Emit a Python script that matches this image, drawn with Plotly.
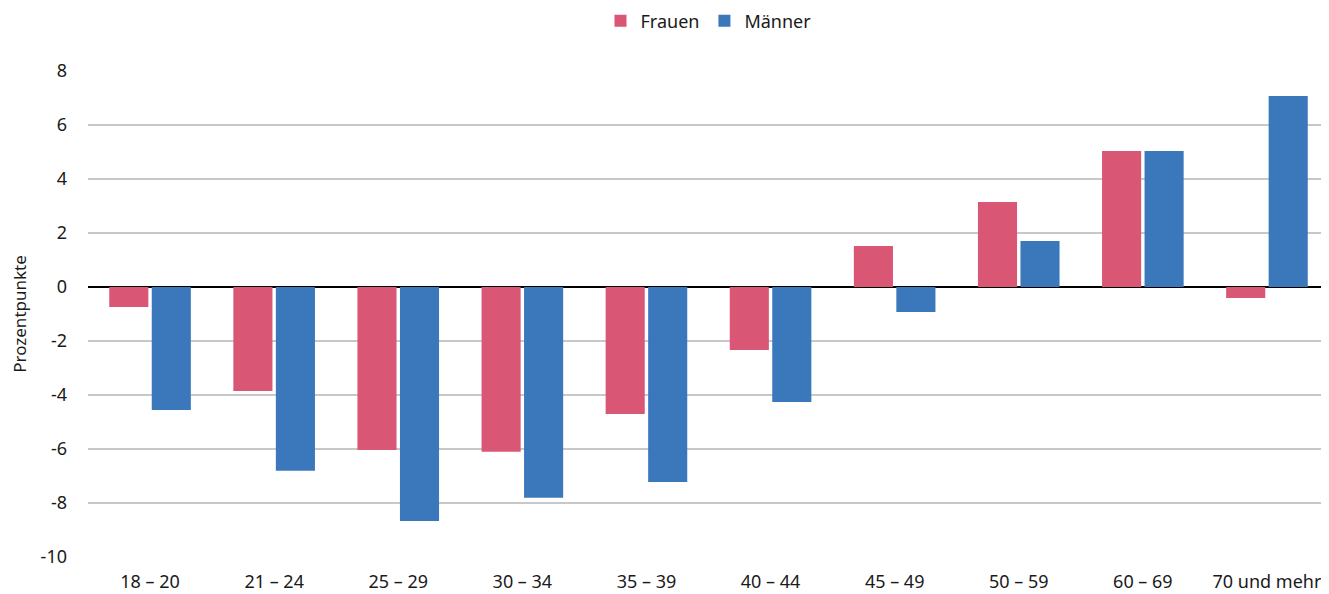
import plotly.graph_objects as go

categories = ["18 – 20", "21 – 24", "25 – 29", "30 – 34", "35 – 39", "40 – 44",
              "45 – 49", "50 – 59", "60 – 69", "70 und mehr"]
frauen = [-0.74, -3.85, -6.04, -6.1, -4.7, -2.33, 1.52, 3.15, 5.04, -0.41]
maenner = [-4.56, -6.81, -8.67, -7.81, -7.22, -4.26, -0.93, 1.70, 5.04, 7.07]
y_ticks = [8, 6, 4, 2, 0, -2, -4, -6, -8, -10]

FONT = "Noto Sans"

fig = go.Figure()
fig.add_trace(go.Bar(name="Frauen", x=categories, y=frauen, marker_color="#D95675",
                     marker_line_width=0))
fig.add_trace(go.Bar(name="Männer", x=categories, y=maenner, marker_color="#3B77BB",
                     marker_line_width=0))

fig.update_layout(
    width=1321, height=586,
    margin=dict(l=80, r=0, t=63, b=37, autoexpand=False),
    paper_bgcolor="white", plot_bgcolor="white",
    barmode="group", bargap=0.315, bargroupgap=0.08,
    font=dict(family=FONT, size=18, color="#1a1a1a"),
    legend=dict(orientation="h", x=0.5, xanchor="center", y=1.103, yanchor="middle",
                font=dict(size=18), itemwidth=30,
                traceorder="normal", tracegroupgap=0),
    showlegend=True,
)
fig.update_xaxes(showgrid=False, showline=False, ticks="", tickfont=dict(size=18),
                 automargin=False, ticklabelstandoff=12)
fig.update_yaxes(range=[-10, 8], tickvals=y_ticks, ticktext=[str(v) for v in y_ticks],
                 showgrid=True, gridcolor="#C8C8C8", gridwidth=1.5,
                 zeroline=True, zerolinecolor="black", zerolinewidth=2,
                 ticks="", ticklabelstandoff=20, tickfont=dict(size=18), automargin=False,
                 title=dict(text="Prozentpunkte", font=dict(size=17), standoff=18))

fig.write_html("out.html")
